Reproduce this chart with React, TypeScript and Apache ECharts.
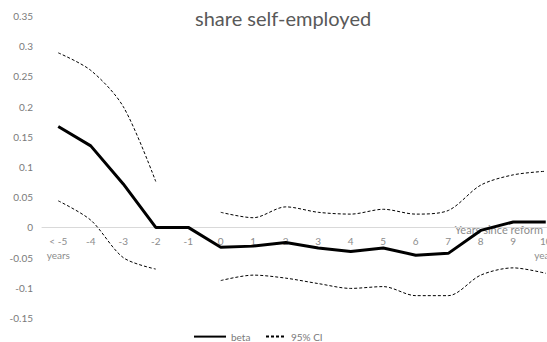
import React, { useEffect, useRef } from "react";
import * as echarts from "echarts";

// Event-study estimates: years relative to the reform
const categories = [
  "< -5\nyears", "-4", "-3", "-2", "-1", "0", "1", "2", "3", "4", "5", "6", "7", "8", "9", "10\nyears",
];

// Point estimates
const beta = [
  0.167, 0.135, 0.072, 0, 0, -0.033, -0.031, -0.025, -0.034, -0.04, -0.034, -0.046, -0.043, -0.005, 0.009, 0.009,
];

// 95% confidence bounds (reference year -1 has no interval)
const ciUpper = [
  0.289, 0.26, 0.2, 0.076, null, 0.025, 0.016, 0.034, 0.025, 0.022, 0.03, 0.022, 0.028, 0.07, 0.087, 0.093,
];
const ciLower = [
  0.044, 0.012, -0.05, -0.069, null, -0.088, -0.079, -0.084, -0.093, -0.101, -0.098, -0.113, -0.113, -0.079, -0.067, -0.076,
];

// Value-axis range and step
const Y_MIN = -0.15;
const Y_MAX = 0.35;
const Y_STEP = 0.05;

const FONT = "Lato, 'DejaVu Sans', sans-serif";

// Plot area (the last category band runs past the right edge of the canvas)
const GRID = { left: 42, top: 16, width: 520, height: 302 };

export default function App() {
  const ref = useRef<HTMLDivElement>(null);

  useEffect(() => {
    if (!ref.current) return;
    const chart = echarts.init(ref.current, undefined, { renderer: "svg" });

    const ciStyle = { color: "#000000", width: 1, type: [3, 2] as number[] };

    // lift the category axis (line and labels) up to the y = 0 level
    const zeroOffset = -((0 - Y_MIN) / (Y_MAX - Y_MIN)) * GRID.height;

    const legendCommon = {
      top: 326,
      itemHeight: 14,
      itemStyle: { opacity: 0 },
      textStyle: { fontSize: 10, color: "#7a7a7a", fontFamily: FONT },
    };

    chart.setOption({
      animation: false,
      backgroundColor: "#ffffff",
      textStyle: { fontFamily: FONT },
      title: {
        text: "share self-employed",
        left: 190,
        top: 3,
        textStyle: { fontFamily: FONT, fontSize: 20, fontWeight: "normal", color: "#595959" },
      },
      grid: { ...GRID, outerBoundsMode: "none", containLabel: false },
      xAxis: {
        type: "category",
        data: categories,
        boundaryGap: true,
        offset: zeroOffset,
        axisLine: { onZero: false, lineStyle: { color: "#d9d9d9", width: 1 } },
        axisTick: { show: false },
        axisLabel: {
          interval: 0,
          margin: 7,
          fontSize: 10,
          lineHeight: 13.5,
          color: "#8c8c8c",
          fontFamily: FONT,
        },
        splitLine: { show: false },
      },
      yAxis: {
        type: "value",
        min: Y_MIN,
        max: Y_MAX,
        interval: Y_STEP,
        axisLine: { show: false },
        axisTick: { show: false },
        splitLine: { show: false },
        axisLabel: {
          margin: 9,
          fontSize: 10,
          color: "#7a7a7a",
          fontFamily: FONT,
          formatter: (v: number) => String(parseFloat(v.toFixed(2))),
        },
      },
      legend: [
        { ...legendCommon, data: ["beta"], left: 188, itemWidth: 32 },
        { ...legendCommon, data: ["95% CI"], left: 260, itemWidth: 20 },
      ],
      graphic: [
        {
          type: "text",
          right: 4,
          top: 224,
          style: {
            text: "Years since reform",
            fontSize: 11,
            fill: "#8c8c8c",
            fontFamily: FONT,
          },
        },
      ],
      series: [
        {
          name: "95% CI",
          type: "line",
          data: ciUpper,
          symbol: "none",
          smooth: 0.3,
          connectNulls: false,
          lineStyle: ciStyle,
          itemStyle: { color: "#000000" },
        },
        {
          name: "95% CI",
          type: "line",
          data: ciLower,
          symbol: "none",
          smooth: 0.3,
          connectNulls: false,
          lineStyle: ciStyle,
          itemStyle: { color: "#000000" },
        },
        {
          name: "beta",
          type: "line",
          data: beta,
          symbol: "none",
          lineStyle: { color: "#000000", width: 3 },
          itemStyle: { color: "#000000" },
          z: 3,
        },
      ],
    });

    return () => chart.dispose();
  }, []);

  return (
    <div
      ref={ref}
      style={{ position: "fixed", left: 0, top: 0, width: 547, height: 342 }}
    />
  );
}
